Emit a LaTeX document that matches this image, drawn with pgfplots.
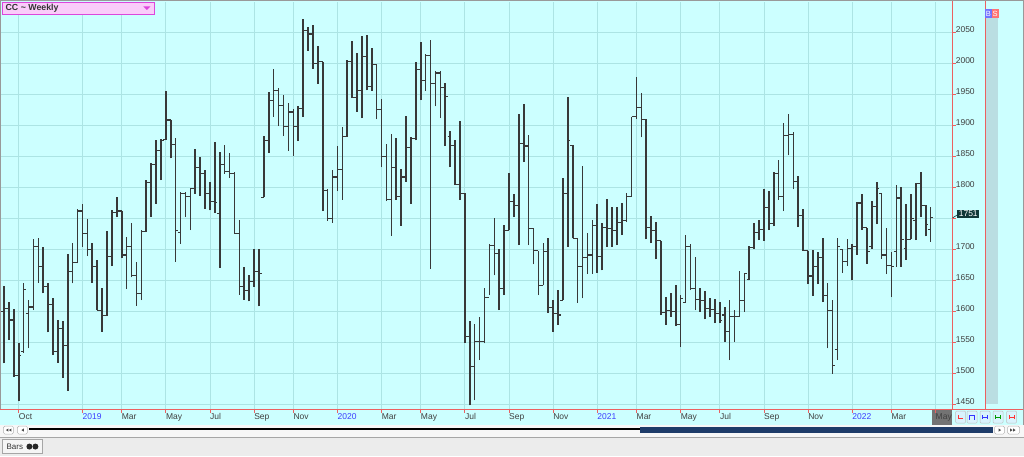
\documentclass[border=0pt]{standalone}
\usepackage{pgfplots}
\pgfplotsset{compat=1.18}
\usepackage{pgfplotstable}
\usepackage{fontspec}
\setmainfont{Liberation Sans}

\definecolor{bgcyan}{RGB}{204,255,255}
\definecolor{gridc}{RGB}{172,228,228}
\definecolor{barc}{RGB}{56,56,56}
\definecolor{axred}{RGB}{236,96,96}
\definecolor{yrblue}{RGB}{60,60,255}
\definecolor{labc}{RGB}{64,64,64}
\definecolor{strip}{RGB}{186,222,226}
\definecolor{pinkbox}{RGB}{250,204,250}
\definecolor{magbord}{RGB}{220,70,220}
\definecolor{scrollblue}{RGB}{30,60,105}
\definecolor{uigray}{RGB}{236,236,236}
\definecolor{lastbox}{RGB}{16,56,56}

% open tick to the left, close tick to the right
\pgfdeclareplotmark{opentick}{%
  \pgfpathmoveto{\pgfqpoint{-2.6pt}{0pt}}\pgfpathlineto{\pgfqpoint{0pt}{0pt}}\pgfusepathqstroke}
\pgfdeclareplotmark{closetick}{%
  \pgfpathmoveto{\pgfqpoint{0pt}{0pt}}\pgfpathlineto{\pgfqpoint{2.6pt}{0pt}}\pgfusepathqstroke}

% weekly OHLC, week 0 = first week of Oct 2018
\pgfplotstableread{
i h l o c
-3 1641 1516 1600 1604
-2 1615 1554 1604 1586
-1 1604 1494 1586 1496
0 1549 1455 1496 1528
1 1645 1533 1535 1635
2 1618 1540 1596 1607
3 1716 1602 1607 1705
4 1719 1646 1705 1672
5 1704 1629 1672 1640
6 1645 1566 1640 1611
7 1621 1530 1611 1535
8 1586 1517 1535 1572
9 1585 1493 1572 1545
10 1693 1472 1545 1665
11 1710 1645 1665 1679
12 1765 1678 1679 1762
13 1773 1704 1762 1726
14 1749 1689 1726 1700
15 1710 1646 1700 1672
16 1683 1602 1672 1602
17 1638 1567 1602 1593
18 1730 1592 1593 1688
19 1763 1673 1688 1759
20 1785 1752 1759 1762
21 1762 1686 1762 1691
22 1720 1636 1691 1704
23 1743 1655 1704 1658
24 1680 1609 1658 1629
25 1731 1618 1629 1729
26 1812 1728 1729 1808
27 1839 1752 1808 1837
28 1877 1774 1837 1860
29 1879 1812 1860 1876
30 1956 1877 1877 1909
31 1909 1847 1909 1870
32 1880 1680 1870 1730
33 1793 1709 1728 1791
34 1793 1752 1791 1785
35 1799 1731 1785 1799
36 1862 1790 1799 1833
37 1849 1787 1833 1822
38 1828 1766 1822 1790
39 1809 1763 1790 1778
40 1874 1759 1778 1776
41 1857 1670 1758 1837
42 1868 1822 1837 1826
43 1855 1816 1826 1822
44 1825 1726 1822 1726
45 1747 1627 1726 1640
46 1672 1619 1640 1633
47 1658 1616 1633 1648
48 1700 1640 1648 1665
49 1700 1608 1665 1661
50 1884 1784 1784 1876
51 1954 1856 1876 1941
52 1992 1914 1941 1957
53 1960 1899 1957 1933
54 1950 1883 1933 1899
55 1936 1859 1899 1922
56 1927 1851 1922 1899
57 1931 1875 1899 1927
58 2072 1914 1927 2054
59 2059 2021 2054 2048
60 2063 1992 2048 2000
61 2028 1968 2000 2003
62 2003 1762 2003 1795
63 1798 1746 1795 1750
64 1829 1743 1750 1817
65 1867 1794 1817 1829
66 1898 1780 1829 1882
67 2006 1882 1882 2003
68 2037 1945 2003 1946
69 2017 1922 1946 1957
70 2044 1912 1957 2012
71 2046 1957 2012 1963
72 2025 1956 1963 1999
73 1999 1910 1999 1926
74 1943 1833 1926 1850
75 1870 1778 1850 1780
76 1886 1722 1780 1833
77 1880 1780 1833 1785
78 1830 1738 1785 1817
79 1916 1809 1817 1865
80 1882 1774 1865 1879
81 2003 1876 1879 1991
82 2035 1941 1991 1973
83 2016 1956 1973 2013
84 2039 1669 2013 1968
85 1989 1931 1968 1985
86 1989 1912 1985 1961
87 1969 1867 1961 1947
88 1892 1833 1882 1868
89 1877 1804 1868 1805
90 1907 1780 1805 1791
91 1791 1549 1791 1559
92 1585 1448 1559 1511
93 1580 1456 1511 1551
94 1591 1521 1551 1551
95 1638 1548 1551 1623
96 1709 1626 1623 1707
97 1750 1658 1707 1694
98 1701 1602 1694 1637
99 1740 1626 1637 1731
100 1823 1731 1731 1777
101 1790 1752 1777 1771
102 1919 1707 1771 1871
103 1935 1841 1871 1867
104 1885 1707 1867 1734
105 1735 1676 1734 1698
106 1698 1626 1698 1641
107 1710 1642 1641 1696
108 1719 1598 1696 1606
109 1618 1567 1606 1596
110 1634 1578 1596 1594
111 1816 1618 1618 1790
112 1946 1704 1790 1876
113 1868 1718 1868 1718
114 1718 1614 1718 1672
115 1835 1621 1672 1687
116 1727 1661 1687 1691
117 1747 1661 1691 1738
118 1774 1662 1738 1688
119 1743 1666 1688 1736
120 1782 1704 1736 1734
121 1769 1704 1734 1731
122 1769 1707 1731 1743
123 1775 1723 1743 1747
124 1791 1744 1747 1786
125 1914 1785 1786 1914
126 1978 1910 1914 1929
127 1953 1881 1929 1910
128 1911 1716 1910 1736
129 1754 1710 1736 1731
130 1744 1684 1731 1714
131 1714 1594 1714 1598
132 1623 1578 1598 1602
133 1630 1591 1602 1599
134 1642 1576 1599 1578
135 1626 1542 1578 1621
136 1723 1614 1614 1705
137 1709 1634 1705 1637
138 1687 1602 1637 1619
139 1637 1599 1619 1618
140 1633 1587 1618 1605
141 1621 1591 1605 1603
142 1620 1581 1603 1596
143 1615 1581 1596 1585
144 1607 1551 1594 1567
145 1618 1521 1567 1592
146 1602 1551 1592 1591
147 1665 1591 1591 1618
148 1662 1599 1618 1661
149 1705 1650 1651 1703
150 1743 1701 1703 1727
151 1747 1715 1727 1732
152 1797 1714 1732 1768
153 1794 1731 1768 1742
154 1825 1737 1742 1822
155 1844 1780 1822 1785
156 1904 1762 1785 1884
157 1918 1852 1884 1885
158 1889 1797 1885 1809
159 1819 1736 1809 1755
160 1766 1698 1755 1698
161 1698 1644 1698 1657
162 1699 1625 1657 1673
163 1696 1644 1673 1687
164 1719 1615 1687 1626
165 1646 1540 1626 1602
166 1619 1499 1602 1512
167 1719 1521 1538 1704
168 1701 1662 1700 1681
169 1717 1673 1681 1701
170 1709 1650 1701 1704
171 1777 1691 1704 1775
172 1790 1732 1775 1735
173 1735 1677 1735 1696
174 1779 1701 1705 1769
175 1809 1741 1769 1798
176 1791 1685 1790 1691
177 1734 1660 1691 1674
178 1696 1623 1674 1673
179 1804 1672 1696 1783
180 1801 1672 1783 1716
181 1773 1683 1701 1716
182 1789 1716 1716 1750
183 1807 1715 1746 1806
184 1825 1752 1806 1771
185 1771 1721 1771 1740
186 1768 1712 1732 1751
}\ohlc

\begin{document}
\begin{tikzpicture}[x=1pt,y=1pt,font=\fontsize{8.5}{10}\selectfont]
% panels behind the chart
\fill[bgcyan] (0,31) rectangle (1024,456);
\fill[white!97!black] (0,19) rectangle (1024,31);
\fill[uigray] (0,0) rectangle (1024,19);
\fill[strip] (986,52) rectangle (998,446);
\fill[black!55] (932,31) rectangle (952,46.5);

\begin{axis}[
  at={(1pt,47pt)}, anchor=south west,
  scale only axis, width=951pt, height=407pt,
  xmin=-3.53, xmax=190.28, ymin=1442, ymax=2099,
  axis line style={draw=none},
  xtick pos=bottom, ytick pos=right,
  tick align=outside, major tick length=4pt,
  tick style={draw=axred, line width=0.9pt},
  xtick={0,13,21,30,39,48,56,65,74,82,91,100,109,118,126,135,143,152,161,170,178,187},
  xticklabels={Oct,\textcolor{yrblue}{2019},Mar,May,Jul,Sep,Nov,\textcolor{yrblue}{2020},Mar,May,Jul,Sep,Nov,\textcolor{yrblue}{2021},Mar,May,Jul,Sep,Nov,\textcolor{yrblue}{2022},Mar,May},
  ytick={1450,1500,...,2050},
  % 1750 is hidden behind the last-price box
  yticklabels={1450,1500,1550,1600,1650,1700,,1800,1850,1900,1950,2000,2050},
  xticklabel style={anchor=north west, inner sep=0pt, text=labc},
  yticklabel style={anchor=base west, inner sep=0pt, text=labc},
  grid=major, major grid style={draw=gridc, line width=0.9pt},
]
\addplot[draw=none, mark=none,
  error bars/.cd, y dir=plus, y explicit, error mark=none,
  error bar style={draw=barc, line width=1.6pt}]
  table[x=i, y=l, y error expr=\thisrow{h}-\thisrow{l}] {\ohlc};
\addplot[only marks, mark=opentick, mark options={draw=barc, line width=1.1pt}]
  table[x=i, y=o] {\ohlc};
\addplot[only marks, mark=closetick, mark options={draw=barc, line width=1.1pt}]
  table[x=i, y=c] {\ohlc};
\end{axis}

% red axis lines and frame
\draw[axred, line width=0.9pt] (0,47) -- (1024,47);
\draw[axred, line width=0.9pt] (952.5,47) -- (952.5,456);
\draw[axred, line width=0.9pt] (985.5,47) -- (985.5,456);
\draw[black!40, line width=0.8pt] (0.4,47) -- (0.4,455.6) -- (1023.6,455.6) -- (1023.6,31);

% last price marker
\draw[lastbox, line width=0.6pt] (953,238.4) -- (958,241.5);
\node[fill=lastbox, text=white, inner xsep=1.5pt, inner ysep=1.2pt, anchor=west] at (957.5,242.5) {1751};

% B / S boxes
\node[fill=blue!55, text=white, inner sep=0.8pt, minimum width=7pt, minimum height=9pt, font=\fontsize{7.5}{8}\selectfont] at (988.8,442.5) {B};
\node[fill=red!55, text=white, inner sep=0.8pt, minimum width=7pt, minimum height=9pt, font=\fontsize{7.5}{8}\selectfont] at (995.5,442.5) {S};

% title box
\draw[magbord, fill=pinkbox, line width=0.8pt] (2,442) rectangle (154,454);
\node[anchor=west, inner sep=0pt, text=black!80, font=\fontsize{8.8}{10}\selectfont\bfseries] at (5,448) {CC \char`\~{} Weekly};
\fill[magbord] (143,450) -- (150,450) -- (146.5,446.5) -- cycle;

% small tool buttons
\foreach \bx in {961,972.5,985.5,998.5,1012}{
  \draw[black!25, fill=white!85!cyan, rounded corners=1pt] (\bx-5,33) rectangle (\bx+5,45);
}
\draw[red!80, line width=0.8pt] (958.5,41) -- (958.5,37.5) -- (963.5,37.5);
\draw[blue!80, line width=0.8pt] (970,36.5) -- (970,41) -- (975,41) -- (975,36.5);
\draw[blue!80, line width=0.8pt] (983,37) -- (983,41) (983,39) -- (988,39) (988,37) -- (988,41);
\draw[green!60!black, line width=0.8pt] (996,37) -- (996,41) (996,39) -- (1001,39) (1001,37) -- (1001,41);
\draw[red!80, line width=0.8pt] (1009.5,37) -- (1009.5,41) (1009.5,39) -- (1014.5,39) (1014.5,37) -- (1014.5,41);

% scroll bar row
\draw[black!30, fill=white, rounded corners=1.5pt] (3,22) rectangle (13,30);
\draw[black!30, fill=white, rounded corners=1.5pt] (17,22) rectangle (27,30);
\fill[black!70] (5.5,26) -- (8,27.6) -- (8,24.4) -- cycle;
\fill[black!70] (8.5,26) -- (11,27.6) -- (11,24.4) -- cycle;
\fill[black!70] (21,26) -- (23.5,27.6) -- (23.5,24.4) -- cycle;
\draw[black, line width=2pt] (29,26.7) -- (640,26.7);
\fill[scrollblue] (640,23.3) rectangle (993,29.5);
\draw[black!30, fill=white, rounded corners=1.5pt] (995,22) rectangle (1005,30);
\draw[black!30, fill=white, rounded corners=1.5pt] (1008,22) rectangle (1020,30);
\fill[black!70] (1001.5,26) -- (999,27.6) -- (999,24.4) -- cycle;
\fill[black!70] (1013,26) -- (1010.5,27.6) -- (1010.5,24.4) -- cycle;
\fill[black!70] (1016,26) -- (1013.5,27.6) -- (1013.5,24.4) -- cycle;

% bottom tab row
\draw[black!35, line width=0.6pt] (0,19) -- (1024,19);
\draw[black!35, fill=white!96!black] (1.5,2.5) rectangle (42,16.5);
\node[anchor=west, inner sep=0pt, text=black!80, font=\fontsize{8}{9}\selectfont] at (6,9.5) {Bars};
\fill[black!85] (29,9.5) circle (3pt);
\fill[black!85] (35,9.5) circle (3pt);
\end{tikzpicture}
\end{document}
